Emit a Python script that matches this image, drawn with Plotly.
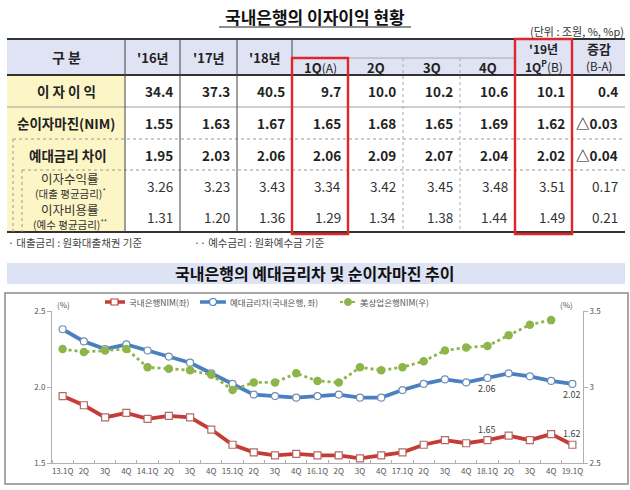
import plotly.graph_objects as go

# ---------------- data ----------------
table_header = ["'16년", "'17년", "'18년", "1Q(A)", "2Q", "3Q", "4Q", "'19년|1Q<sup>P</sup>(B)", "증감|(B-A)"]
row_labels = ["이 자 이 익", "순이자마진(NIM)", "예대금리 차이",
              "이자수익률|(대출 평균금리)<sup>*</sup>", "이자비용률|(예수 평균금리)<sup>**</sup>"]
interest_income = ["34.4", "37.3", "40.5", "9.7", "10.0", "10.2", "10.6", "10.1", "0.4"]
nim_row = ["1.55", "1.63", "1.67", "1.65", "1.68", "1.65", "1.69", "1.62", "△0.03"]
spread_row = ["1.95", "2.03", "2.06", "2.06", "2.09", "2.07", "2.04", "2.02", "△0.04"]
loan_rate_row = ["3.26", "3.23", "3.43", "3.34", "3.42", "3.45", "3.48", "3.51", "0.17"]
deposit_rate_row = ["1.31", "1.20", "1.36", "1.29", "1.34", "1.38", "1.44", "1.49", "0.21"]
footnotes = ["· 대출금리 : 원화대출채권 기준", "·· 예수금리 : 원화예수금 기준"]

quarter_labels = ["13.1Q", "2Q", "3Q", "4Q", "14.1Q", "2Q", "3Q", "4Q", "15.1Q", "2Q", "3Q", "4Q",
                  "16.1Q", "2Q", "3Q", "4Q", "17.1Q", "2Q", "3Q", "4Q", "18.1Q", "2Q", "3Q", "4Q", "19.1Q"]
nim_domestic = [1.94, 1.88, 1.80, 1.83, 1.79, 1.81, 1.80, 1.72, 1.62, 1.57, 1.55, 1.56,
                1.55, 1.55, 1.53, 1.55, 1.57, 1.62, 1.65, 1.63, 1.65, 1.68, 1.65, 1.69, 1.62]
loan_deposit_spread = [2.38, 2.30, 2.25, 2.28, 2.24, 2.20, 2.16, 2.09, 2.02, 1.95, 1.94, 1.93,
                       1.94, 1.95, 1.93, 1.93, 1.98, 2.02, 2.05, 2.03, 2.06, 2.09, 2.07, 2.04, 2.02]
us_nim = [3.25, 3.23, 3.24, 3.25, 3.13, 3.12, 3.11, 3.08, 2.98, 3.03, 3.03, 3.09,
          3.04, 3.03, 3.13, 3.11, 3.13, 3.17, 3.24, 3.26, 3.27, 3.34, 3.41, 3.44, None]
legend_names = ["국내은행NIM(좌)", "예대금리차(국내은행, 좌)", "美상업은행NIM(우)"]

# ---------------- layout helpers ----------------
W, H = 630, 490
L, R, T, B = 52, 583, 311, 463
FONT = "Noto Sans CJK KR"
RED, BLUE, GREEN = "#c43c35", "#4a80c2", "#8db54a"


def px(x):
    return (x - L) / (R - L)


def py(y):
    return (B - y) / (B - T)


shapes, annos = [], []


def rect(x0, y0, x1, y1, fill=None, line=None, lw=0, dash=None, layer="below"):
    d = dict(type="rect", xref="paper", yref="paper", x0=px(x0), x1=px(x1), y0=py(y0), y1=py(y1),
             layer=layer, line=dict(width=lw, color=line or "rgba(0,0,0,0)"))
    if dash:
        d["line"]["dash"] = dash
    if fill:
        d["fillcolor"] = fill
    shapes.append(d)


def hline(x0, x1, y, color, w, dash=None, layer="above"):
    d = dict(type="line", xref="paper", yref="paper", x0=px(x0), x1=px(x1), y0=py(y), y1=py(y),
             layer=layer, line=dict(color=color, width=w))
    if dash:
        d["line"]["dash"] = dash
    shapes.append(d)


def vline(x, y0, y1, color, w, dash=None, layer="above"):
    d = dict(type="line", xref="paper", yref="paper", x0=px(x), x1=px(x), y0=py(y0), y1=py(y1),
             layer=layer, line=dict(color=color, width=w))
    if dash:
        d["line"]["dash"] = dash
    shapes.append(d)


def text(x, y, s, size=12, color="#222", xanchor="center", bold=False, yanchor="middle"):
    if bold:
        s = "<b>" + s + "</b>"
    annos.append(dict(xref="paper", yref="paper", x=px(x), y=py(y), text=s, showarrow=False,
                      xanchor=xanchor, yanchor=yanchor, font=dict(family=FONT, size=size, color=color)))


# ---------------- table ----------------
text(315, 16, "국내은행의 이자이익 현황", size=17, bold=True, color="#111")
hline(219, 411, 27, "#222", 1.2)
text(626, 31, "(단위 : 조원, %, %p)", size=11, color="#333", xanchor="right")

cols = [7, 125, 180, 237, 292, 348, 403, 460, 515, 572, 625]
rows = [75, 107, 139, 170, 201, 232]

# backgrounds
rect(7, 39, 625, 75, fill="#dfe3f4")
rect(7, 75, 125, 232, fill="#fcf6c6")

# header texts
text(66, 57, "구 분", size=14, bold=True)
for i, h in enumerate(table_header):
    cx = (cols[i + 1] + cols[i + 2]) / 2
    if "|" in h:
        a, b = h.split("|")
        if i == 7:
            text(cx, 48, a, size=12, bold=True)
            text(cx, 66, "<b>1Q<sup>P</sup></b>(B)", size=12)
        else:
            text(cx, 48, a, size=13, bold=True)
            text(cx, 66, b, size=11.5)
    elif i == 3:
        text(cx, 67, "<b>1Q</b><span style='font-size:12px'>(A)</span>", size=13)
    elif i in (4, 5, 6):
        text(cx, 67, h, size=13, bold=True)
    else:
        text(cx, 57, h, size=13, bold=True)

# body
body = [interest_income, nim_row, spread_row, loan_rate_row, deposit_rate_row]
for r, vals in enumerate(body):
    cy = (rows[r] + rows[r + 1]) / 2
    for c, v in enumerate(vals):
        text(cols[c + 2] - 5, cy, v, size=13.5, bold=(r < 3), xanchor="right",
             color="#222" if r < 3 else "#333")
    lab = row_labels[r]
    if "|" in lab:
        a, b = lab.split("|")
        text(70, cy - 7.5, a, size=12.5, color="#333")
        text(70, cy + 7.5, b, size=10.5, color="#333")
    else:
        text(66 if r < 2 else 68, cy, lab, size=13.5, bold=True)

# table lines
hline(7, 625, 39, "#333", 2.2)
hline(7, 625, 75, "#333", 2.2)
hline(7, 625, 232, "#333", 2.2)
hline(292, 515, 58, "#999", 0.8)
hline(7, 625, 107, "#888", 0.8)
hline(13, 625, 139, "#999", 1, dash="dot")
hline(22, 625, 170, "#999", 1, dash="dot")
vline(13, 139, 232, "#999", 1, dash="dot")
vline(22, 170, 232, "#999", 1, dash="dot")
for x in (125, 180, 237, 292):
    vline(x, 39, 232, "#444", 1)
vline(348, 58, 232, "#444", 1)
vline(403, 58, 232, "#aaa", 1, dash="dot")
vline(460, 58, 232, "#aaa", 1, dash="dot")
vline(515, 39, 232, "#444", 1)
vline(572, 39, 232, "#444", 1)
rect(292, 58, 348, 234, line="#e0262a", lw=2.4, layer="above")
rect(515, 39, 572, 234, line="#e0262a", lw=2.4, layer="above")

text(6, 242, footnotes[0], size=10.5, color="#444", xanchor="left")
text(192, 242, footnotes[1], size=10.5, color="#444", xanchor="left")

# ---------------- chart title & frame ----------------
rect(7, 263, 625, 284, fill="#dde3f4")
text(315, 273, "국내은행의 예대금리차 및 순이자마진 추이", size=16, bold=True, color="#111")
rect(5, 293, 628, 484, line="#8a8a8a", lw=1.5)

# axis unit labels
text(55, 304, "(%)", size=8, color="#555", xanchor="left")
text(575, 304, "(%)", size=8, color="#555", xanchor="right")

# manual legend
hline(105, 125, 302, RED, 3.5)
rect(111, 299, 118, 305, fill="white", line=RED, lw=1.2, layer="above")
text(127, 302, legend_names[0], size=8.5, color="#555", xanchor="left")
hline(200, 226, 302, BLUE, 3.5)
shapes.append(dict(type="circle", xref="paper", yref="paper", x0=px(209.5), x1=px(216.5),
                   y0=py(298.5), y1=py(305.5), fillcolor="white", line=dict(color=BLUE, width=1.2),
                   layer="above"))
text(228, 302, legend_names[1], size=8.5, color="#555", xanchor="left")
hline(340, 356, 302, GREEN, 2.2, dash="dot")
shapes.append(dict(type="circle", xref="paper", yref="paper", x0=px(344.5), x1=px(351.5),
                   y0=py(298.5), y1=py(305.5), fillcolor=GREEN, line=dict(color=GREEN, width=1),
                   layer="above"))
text(358, 302, legend_names[2], size=8.5, color="#555", xanchor="left")

# ---------------- chart ----------------
xs = list(range(len(quarter_labels)))
fig = go.Figure()
fig.add_trace(go.Scatter(x=xs, y=us_nim, yaxis="y2", mode="lines+markers", name=legend_names[2],
                         line=dict(color=GREEN, width=2.8, dash="dot"),
                         marker=dict(symbol="circle", size=8.5, color=GREEN)))
fig.add_trace(go.Scatter(x=xs, y=loan_deposit_spread, mode="lines+markers", name=legend_names[1],
                         line=dict(color=BLUE, width=3.8),
                         marker=dict(symbol="circle", size=7, color="white",
                                     line=dict(color="#6f8fb5", width=1.2))))
fig.add_trace(go.Scatter(x=xs, y=nim_domestic, mode="lines+markers", name=legend_names[0],
                         line=dict(color=RED, width=3.8),
                         marker=dict(symbol="square", size=7, color="white",
                                     line=dict(color="#b56a66", width=1.2))))

for i in (20, 24):
    annos.append(dict(xref="x", yref="y", x=xs[i], y=loan_deposit_spread[i],
                      text=f"{loan_deposit_spread[i]:.2f}", showarrow=False, yshift=-11,
                      font=dict(family=FONT, size=9, color="#444")))
    annos.append(dict(xref="x", yref="y", x=xs[i], y=nim_domestic[i],
                      text=f"{nim_domestic[i]:.2f}", showarrow=False, yshift=11,
                      font=dict(family=FONT, size=9, color="#444")))

fig.update_layout(
    width=W, height=H, autosize=False,
    margin=dict(l=L, r=W - R, t=T, b=H - B, pad=0),
    paper_bgcolor="white", plot_bgcolor="white",
    showlegend=False,
    font=dict(family=FONT, size=9, color="#555"),
    xaxis=dict(range=[-0.5, 24.5], tickmode="array", tickvals=xs, ticktext=quarter_labels,
               showline=True, linecolor="#b0b0b0", linewidth=1, showgrid=False, zeroline=False,
               ticks="", tickfont=dict(size=8, color="#555"),
               minor=dict(tickmode="array", tickvals=[i + 0.5 for i in range(-1, 25)],
                          ticks="inside", ticklen=3, tickcolor="#b0b0b0", showgrid=False)),
    yaxis=dict(range=[1.5, 2.5], tickmode="array", tickvals=[1.5, 2.0, 2.5],
               ticktext=["1.5", "2.0", "2.5"], showline=True, linecolor="#b0b0b0", linewidth=1,
               showgrid=False, zeroline=False, ticks="outside", ticklen=4, tickcolor="#b0b0b0",
               tickfont=dict(size=8, color="#555")),
    yaxis2=dict(range=[2.5, 3.5], overlaying="y", side="right", tickmode="array",
                tickvals=[2.5, 3.0, 3.5], ticktext=["2.5", "3", "3.5"], showline=True,
                linecolor="#b0b0b0", linewidth=1, showgrid=False, zeroline=False,
                ticks="outside", ticklen=4, tickcolor="#b0b0b0", tickfont=dict(size=8, color="#555")),
    shapes=shapes, annotations=annos,
)

fig.write_html("out.html", config={"displayModeBar": False},
               post_script="document.body.style.margin='0';document.body.style.overflow='hidden';")
